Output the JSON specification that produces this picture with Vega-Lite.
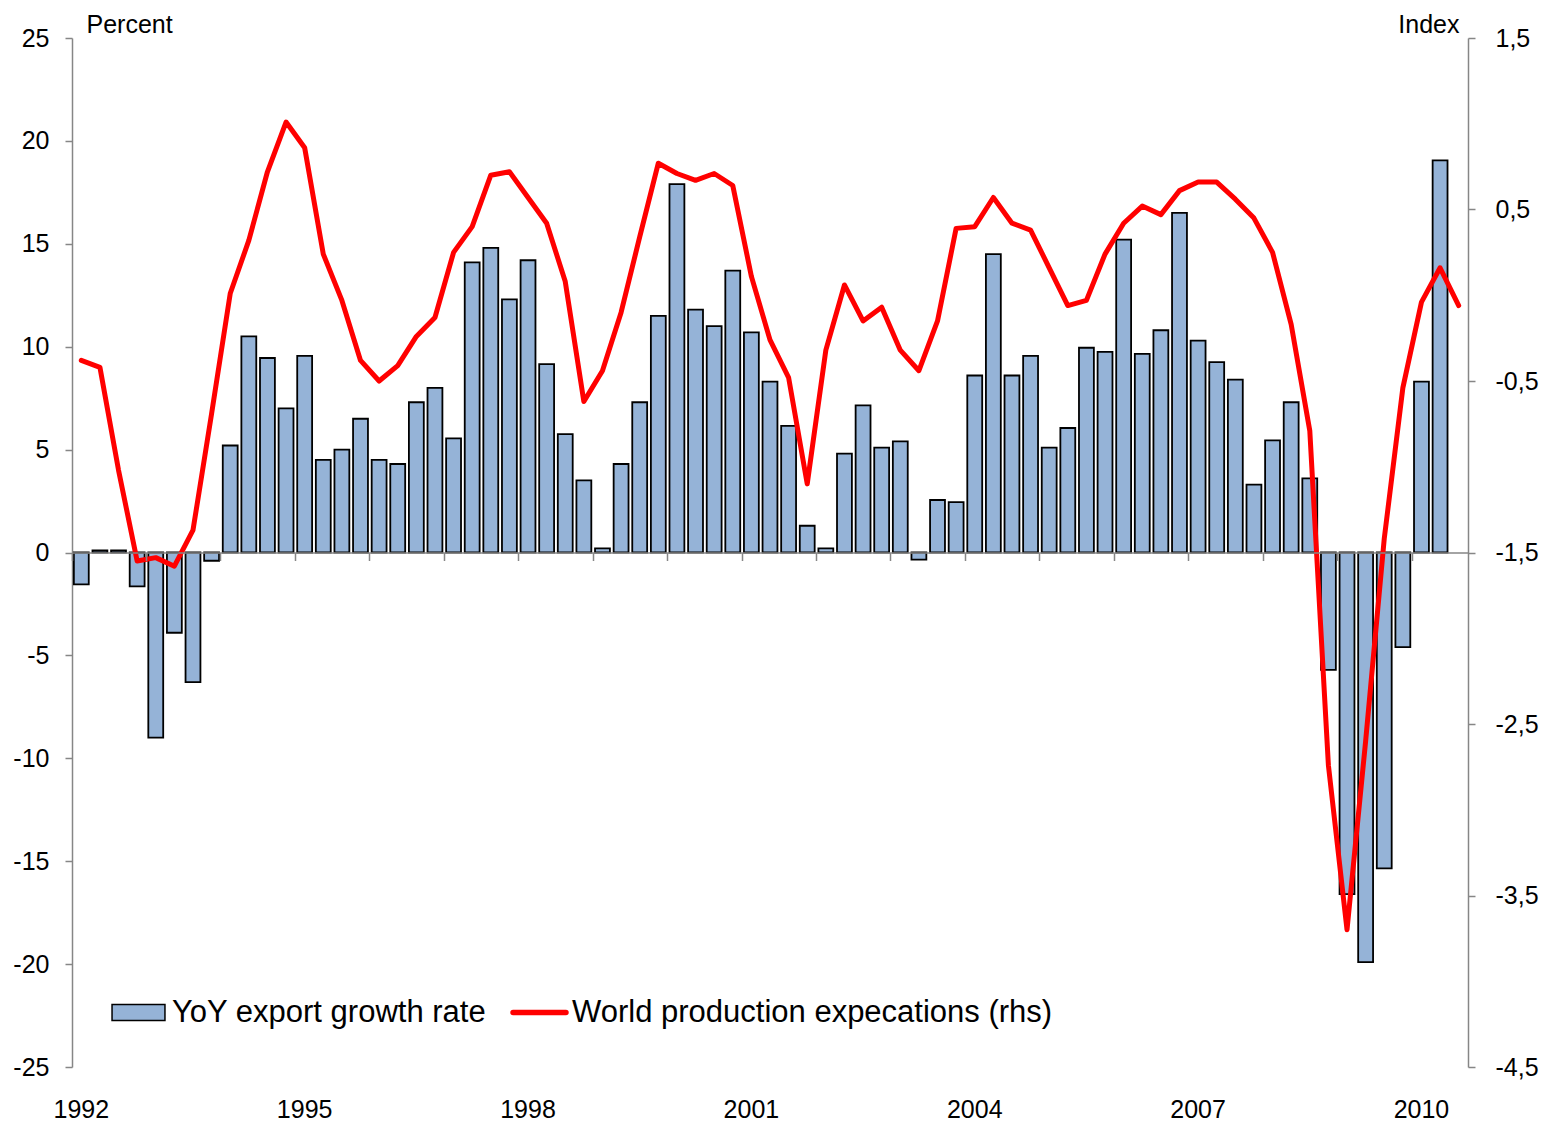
{
  "$schema": "https://vega.github.io/schema/vega-lite/v6.json",
  "width": 1396,
  "height": 1029,
  "autosize": {"type": "none"},
  "padding": {"left": 72, "top": 38, "right": 88, "bottom": 58},
  "background": "white",
  "config": {
    "font": "Liberation Sans",
    "view": {"stroke": null},
    "axis": {
      "grid": false,
      "domainColor": "#868686",
      "tickColor": "#868686",
      "domainWidth": 1.5,
      "tickWidth": 1.5,
      "labelColor": "black",
      "labelFont": "Liberation Sans",
      "labelFontSize": 25,
      "titleFont": "Liberation Sans",
      "titleFontSize": 25,
      "titleFontWeight": "normal",
      "titleColor": "black"
    },
    "legend": {
      "orient": "none",
      "direction": "horizontal",
      "title": null,
      "padding": 0,
      "labelFont": "Liberation Sans",
      "labelFontSize": 31,
      "labelColor": "black",
      "labelLimit": 1000,
      "labelOffset": 6,
      "symbolSize": 2800,
      "symbolOpacity": 1
    }
  },
  "data": {
    "values": [
      {"quarter": "1992 Q1", "export_growth": -1.55, "production_exp": -0.38},
      {"quarter": "1992 Q2", "export_growth": 0.1, "production_exp": -0.42},
      {"quarter": "1992 Q3", "export_growth": 0.1, "production_exp": -1.02},
      {"quarter": "1992 Q4", "export_growth": -1.65, "production_exp": -1.55},
      {"quarter": "1993 Q1", "export_growth": -9.0, "production_exp": -1.53},
      {"quarter": "1993 Q2", "export_growth": -3.9, "production_exp": -1.58},
      {"quarter": "1993 Q3", "export_growth": -6.3, "production_exp": -1.37},
      {"quarter": "1993 Q4", "export_growth": -0.4, "production_exp": -0.69},
      {"quarter": "1994 Q1", "export_growth": 5.2, "production_exp": 0.01},
      {"quarter": "1994 Q2", "export_growth": 10.5, "production_exp": 0.32},
      {"quarter": "1994 Q3", "export_growth": 9.45, "production_exp": 0.72},
      {"quarter": "1994 Q4", "export_growth": 7.0, "production_exp": 1.01},
      {"quarter": "1995 Q1", "export_growth": 9.55, "production_exp": 0.86},
      {"quarter": "1995 Q2", "export_growth": 4.5, "production_exp": 0.24},
      {"quarter": "1995 Q3", "export_growth": 5.0, "production_exp": -0.03},
      {"quarter": "1995 Q4", "export_growth": 6.5, "production_exp": -0.38},
      {"quarter": "1996 Q1", "export_growth": 4.5, "production_exp": -0.5},
      {"quarter": "1996 Q2", "export_growth": 4.3, "production_exp": -0.41},
      {"quarter": "1996 Q3", "export_growth": 7.3, "production_exp": -0.24},
      {"quarter": "1996 Q4", "export_growth": 8.0, "production_exp": -0.13},
      {"quarter": "1997 Q1", "export_growth": 5.55, "production_exp": 0.25},
      {"quarter": "1997 Q2", "export_growth": 14.1, "production_exp": 0.4},
      {"quarter": "1997 Q3", "export_growth": 14.8, "production_exp": 0.7},
      {"quarter": "1997 Q4", "export_growth": 12.3, "production_exp": 0.72},
      {"quarter": "1998 Q1", "export_growth": 14.2, "production_exp": 0.57},
      {"quarter": "1998 Q2", "export_growth": 9.15, "production_exp": 0.42},
      {"quarter": "1998 Q3", "export_growth": 5.75, "production_exp": 0.08},
      {"quarter": "1998 Q4", "export_growth": 3.5, "production_exp": -0.62},
      {"quarter": "1999 Q1", "export_growth": 0.2, "production_exp": -0.44},
      {"quarter": "1999 Q2", "export_growth": 4.3, "production_exp": -0.1},
      {"quarter": "1999 Q3", "export_growth": 7.3, "production_exp": 0.34},
      {"quarter": "1999 Q4", "export_growth": 11.5, "production_exp": 0.77},
      {"quarter": "2000 Q1", "export_growth": 17.9, "production_exp": 0.71},
      {"quarter": "2000 Q2", "export_growth": 11.8, "production_exp": 0.67},
      {"quarter": "2000 Q3", "export_growth": 11.0, "production_exp": 0.71},
      {"quarter": "2000 Q4", "export_growth": 13.7, "production_exp": 0.64},
      {"quarter": "2001 Q1", "export_growth": 10.7, "production_exp": 0.11},
      {"quarter": "2001 Q2", "export_growth": 8.3, "production_exp": -0.26},
      {"quarter": "2001 Q3", "export_growth": 6.15, "production_exp": -0.48},
      {"quarter": "2001 Q4", "export_growth": 1.3, "production_exp": -1.1},
      {"quarter": "2002 Q1", "export_growth": 0.2, "production_exp": -0.32},
      {"quarter": "2002 Q2", "export_growth": 4.8, "production_exp": 0.06},
      {"quarter": "2002 Q3", "export_growth": 7.15, "production_exp": -0.15},
      {"quarter": "2002 Q4", "export_growth": 5.1, "production_exp": -0.07},
      {"quarter": "2003 Q1", "export_growth": 5.4, "production_exp": -0.32},
      {"quarter": "2003 Q2", "export_growth": -0.35, "production_exp": -0.44},
      {"quarter": "2003 Q3", "export_growth": 2.55, "production_exp": -0.15},
      {"quarter": "2003 Q4", "export_growth": 2.45, "production_exp": 0.39},
      {"quarter": "2004 Q1", "export_growth": 8.6, "production_exp": 0.4},
      {"quarter": "2004 Q2", "export_growth": 14.5, "production_exp": 0.57},
      {"quarter": "2004 Q3", "export_growth": 8.6, "production_exp": 0.42},
      {"quarter": "2004 Q4", "export_growth": 9.55, "production_exp": 0.38},
      {"quarter": "2005 Q1", "export_growth": 5.1, "production_exp": 0.16},
      {"quarter": "2005 Q2", "export_growth": 6.05, "production_exp": -0.06},
      {"quarter": "2005 Q3", "export_growth": 9.95, "production_exp": -0.03},
      {"quarter": "2005 Q4", "export_growth": 9.75, "production_exp": 0.24},
      {"quarter": "2006 Q1", "export_growth": 15.2, "production_exp": 0.42},
      {"quarter": "2006 Q2", "export_growth": 9.65, "production_exp": 0.52},
      {"quarter": "2006 Q3", "export_growth": 10.8, "production_exp": 0.47},
      {"quarter": "2006 Q4", "export_growth": 16.5, "production_exp": 0.61},
      {"quarter": "2007 Q1", "export_growth": 10.3, "production_exp": 0.66},
      {"quarter": "2007 Q2", "export_growth": 9.25, "production_exp": 0.66},
      {"quarter": "2007 Q3", "export_growth": 8.4, "production_exp": 0.56},
      {"quarter": "2007 Q4", "export_growth": 3.3, "production_exp": 0.45},
      {"quarter": "2008 Q1", "export_growth": 5.45, "production_exp": 0.25},
      {"quarter": "2008 Q2", "export_growth": 7.3, "production_exp": -0.17},
      {"quarter": "2008 Q3", "export_growth": 3.6, "production_exp": -0.79},
      {"quarter": "2008 Q4", "export_growth": -5.7, "production_exp": -2.74},
      {"quarter": "2009 Q1", "export_growth": -16.6, "production_exp": -3.7},
      {"quarter": "2009 Q2", "export_growth": -19.9, "production_exp": -2.6},
      {"quarter": "2009 Q3", "export_growth": -15.35, "production_exp": -1.42},
      {"quarter": "2009 Q4", "export_growth": -4.6, "production_exp": -0.54},
      {"quarter": "2010 Q1", "export_growth": 8.3, "production_exp": -0.04},
      {"quarter": "2010 Q2", "export_growth": 19.05, "production_exp": 0.16},
      {"quarter": "2010 Q3", "export_growth": null, "production_exp": -0.06}
    ]
  },
  "layer": [
    {
      "mark": {"type": "bar", "stroke": "black", "strokeWidth": 1.8},
      "encoding": {
        "x": {
          "field": "quarter",
          "type": "ordinal",
          "scale": {"paddingInner": 0.2, "paddingOuter": 0.1},
          "axis": {
            "orient": "bottom",
            "offset": -514.5,
            "title": null,
            "labels": false,
            "ticks": true,
            "tickSize": 8,
            "bandPosition": -0.125,
            "zindex": 1,
            "values": ["1992 Q1", "1993 Q1", "1994 Q1", "1995 Q1", "1996 Q1", "1997 Q1", "1998 Q1", "1999 Q1", "2000 Q1", "2001 Q1", "2002 Q1", "2003 Q1", "2004 Q1", "2005 Q1", "2006 Q1", "2007 Q1", "2008 Q1", "2009 Q1", "2010 Q1"]
          }
        },
        "y": {
          "field": "export_growth",
          "type": "quantitative",
          "scale": {"domain": [-25, 25], "nice": false, "zero": false},
          "axis": {
            "orient": "left",
            "values": [-25, -20, -15, -10, -5, 0, 5, 10, 15, 20, 25],
            "labelExpr": "datum.value + ''",
            "tickSize": 7,
            "labelPadding": 16,
            "title": "Percent",
            "titleAngle": 0,
            "titleAlign": "left",
            "titleBaseline": "alphabetic",
            "titleX": 14,
            "titleY": -6
          }
        },
        "color": {
          "datum": "YoY export growth rate",
          "type": "nominal",
          "scale": {"domain": ["YoY export growth rate"], "range": ["#95B3D7"]},
          "legend": {
            "legendX": 39,
            "legendY": 947,
            "symbolType": "M-1,-0.3H1V0.3H-1Z",
            "symbolFillColor": "#95B3D7",
            "symbolStrokeColor": "black",
            "symbolStrokeWidth": 1.5
          }
        }
      }
    },
    {
      "mark": {"type": "line", "strokeWidth": 5, "strokeJoin": "round", "strokeCap": "round"},
      "encoding": {
        "x": {
          "field": "quarter",
          "type": "ordinal",
          "axis": {
            "orient": "bottom",
            "title": null,
            "domain": false,
            "ticks": false,
            "tickSize": 0,
            "labelPadding": 30,
            "labelAngle": 0,
            "values": ["1992 Q1", "1995 Q1", "1998 Q1", "2001 Q1", "2004 Q1", "2007 Q1", "2010 Q1"],
            "labelExpr": "substring(datum.value, 0, 4)"
          }
        },
        "y": {
          "field": "production_exp",
          "type": "quantitative",
          "scale": {"domain": [-4.5, 1.5], "nice": false, "zero": false},
          "axis": {
            "orient": "right",
            "values": [-4.5, -3.5, -2.5, -1.5, -0.5, 0.5, 1.5],
            "labelExpr": "replace(datum.value + '', '.', ',')",
            "tickSize": 7,
            "labelPadding": 20,
            "title": "Index",
            "titleAngle": 0,
            "titleAlign": "right",
            "titleBaseline": "alphabetic",
            "titleX": -9,
            "titleY": -6
          }
        },
        "color": {
          "datum": "World production expecations (rhs)",
          "type": "nominal",
          "scale": {"domain": ["World production expecations (rhs)"], "range": ["#FF0000"]},
          "legend": {
            "legendX": 438,
            "legendY": 945,
            "labelOffset": 3,
            "symbolType": "stroke",
            "symbolStrokeColor": "#FF0000",
            "symbolStrokeWidth": 5.5,
            "encode": {"symbols": {"update": {"strokeCap": {"value": "round"}}}}
          }
        }
      }
    }
  ],
  "resolve": {
    "scale": {"y": "independent", "color": "independent"},
    "axis": {"x": "independent"}
  }
}
